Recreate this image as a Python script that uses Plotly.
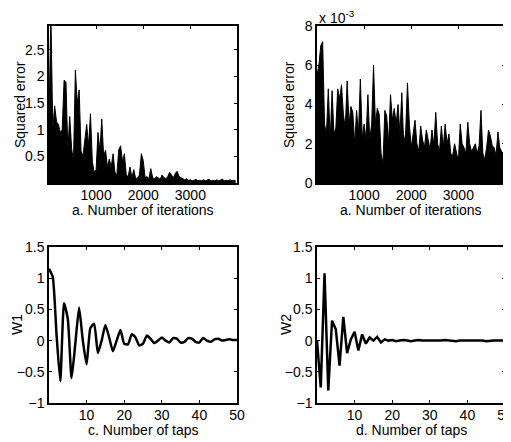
import plotly.graph_objects as go

# iterations sampled every 40 steps (0 .. 3960)
iterations = list(range(0, 4000, 40))

# squared error, plot a (envelope)
err_a = [1.2, 3.2, 1.0, 1.45, 1.15, 1.1, 0.95, 1.0, 1.93, 1.9,
         0.6, 1.25, 0.65, 0.4, 2.12, 1.5, 1.75, 0.6, 0.5, 0.8,
         1.1, 0.7, 1.3, 0.4, 0.2, 0.25, 0.95, 0.6, 1.2, 0.5,
         0.62, 0.3, 0.45, 0.3, 0.55, 0.2, 0.15, 0.62, 0.7, 0.4,
         0.55, 0.15, 0.12, 0.3, 0.1, 0.25, 0.08, 0.1, 0.15, 0.55,
         0.42, 0.1, 0.12, 0.08, 0.27, 0.1, 0.08, 0.12, 0.1, 0.07,
         0.15, 0.1, 0.08, 0.12, 0.2, 0.15, 0.1, 0.18, 0.22, 0.12,
         0.1, 0.08, 0.06, 0.08, 0.05, 0.06, 0.04, 0.05, 0.07, 0.04,
         0.05, 0.04, 0.06, 0.04, 0.05, 0.07, 0.04, 0.05, 0.04, 0.06,
         0.04, 0.05, 0.07, 0.04, 0.05, 0.04, 0.06, 0.04, 0.05, 0.04]

# squared error, plot b (units of 1e-3)
err_b = [5.5, 6.0, 7.0, 7.2, 3.0, 2.5, 4.8, 2.2, 4.7, 2.5,
         2.8, 4.8, 4.3, 5.0, 3.5, 2.8, 5.2, 3.0, 3.9, 3.6,
         2.0, 3.7, 2.5, 5.3, 2.3, 3.0, 2.2, 4.5, 2.2, 3.0,
         6.0, 3.0, 3.8, 3.5, 1.5, 1.0, 3.7, 3.4, 2.0, 4.5,
         3.2, 3.8, 3.0, 4.0, 2.5, 4.6, 2.0, 2.5, 5.1, 3.0,
         1.8, 2.5, 3.2, 2.0, 1.6, 2.9, 2.2, 1.8, 2.7, 2.2,
         1.7, 2.7, 1.9, 3.6, 2.0, 1.6, 2.9, 1.8, 3.0, 2.0,
         2.5, 1.5, 1.4, 2.0, 1.6, 1.1, 3.0, 2.0, 1.8, 1.5,
         3.1, 2.0, 1.6, 1.8, 2.0, 1.5, 1.9, 3.7, 1.5, 1.2,
         1.8, 2.7, 2.4, 1.9, 1.8, 1.4, 2.6, 1.8, 1.6, 1.5]

taps = list(range(0, 51))

w1 = [1.15, 1.02, 0.1, -0.65, 0.6, 0.35, -0.6, -0.05, 0.53, 0.0,
      -0.38, 0.2, 0.27, -0.2, 0.0, 0.25, 0.05, -0.17, 0.0, 0.17,
      -0.05, -0.06, 0.1, 0.05, -0.08, -0.05, 0.08, 0.03, -0.04, 0.0,
      0.05, 0.0, -0.03, 0.04, 0.03, -0.03, -0.02, 0.04, 0.03, -0.02,
      -0.03, 0.04, 0.0, -0.02, 0.02, 0.03, 0.0, 0.01, 0.02, 0.01, 0.01]

w2 = [0.0, -0.75, 1.08, -0.8, 0.32, 0.18, -0.4, 0.38, -0.2, 0.02,
      0.14, -0.16, 0.1, -0.05, 0.05, 0.0, 0.06, -0.03, 0.02, 0.0,
      0.01, -0.01, 0.0, 0.01, 0.0, -0.01, 0.0, 0.01, 0.0, 0.0,
      0.0, -0.01, 0.0, 0.0, 0.01, 0.0, 0.0, -0.01, 0.0, 0.0,
      0.0, 0.0, 0.01, 0.0, 0.0, -0.01, 0.0, 0.0, 0.0, 0.0, 0.0]

FONT = "Liberation Sans, Arial, sans-serif"

# page has an 8px body margin, so the figure is 8px smaller and everything shifted by 8
W, H, OFF = 503, 434, 8


def fx(px):
    return (px - OFF) / W


def fy(py):
    return 1 - (py - OFF) / H


fig = go.Figure()
fig.add_trace(go.Scatter(x=iterations, y=err_a, mode="lines", line=dict(color="black", width=1),
                         fill="tozeroy", fillcolor="black", xaxis="x", yaxis="y"))
fig.add_trace(go.Scatter(x=iterations, y=err_b, mode="lines", line=dict(color="black", width=1),
                         fill="tozeroy", fillcolor="black", xaxis="x2", yaxis="y2"))
fig.add_trace(go.Scatter(x=taps, y=w1, mode="lines", line=dict(color="black", width=2.5, shape="spline", smoothing=0.5),
                         xaxis="x3", yaxis="y3"))
fig.add_trace(go.Scatter(x=taps, y=w2, mode="lines", line=dict(color="black", width=2.5),
                         xaxis="x4", yaxis="y4"))

ax = dict(showline=True, linecolor="black", linewidth=1.5, mirror="allticks",
          ticks="inside", ticklen=3, tickcolor="black", showgrid=False, zeroline=False,
          automargin=False, ticklabeloverflow="allow",
          tickfont=dict(family=FONT, size=14, color="black"))
xax = dict(ax, ticklabelstandoff=-2)

left = [fx(49), fx(237)]
right = [fx(317), min(fx(505), 1)]
top = [fy(183), fy(26)]
bot = [fy(403), fy(247)]

fig.update_layout(
    width=W, height=H, margin=dict(l=0, r=0, t=0, b=0),
    paper_bgcolor="white", plot_bgcolor="white", showlegend=False,
    xaxis=dict(xax, domain=left, range=[0, 3990], tickvals=[1000, 2000, 3000], anchor="y"),
    yaxis=dict(ax, domain=top, range=[0, 2.95], tickvals=[0.5, 1, 1.5, 2, 2.5], anchor="x"),
    xaxis2=dict(xax, domain=right, range=[0, 3990], tickvals=[1000, 2000, 3000], anchor="y2"),
    yaxis2=dict(ax, domain=top, range=[0, 8], tickvals=[0, 2, 4, 6, 8], anchor="x2"),
    xaxis3=dict(xax, domain=left, range=[0, 50], tickvals=[10, 20, 30, 40, 50], anchor="y3"),
    yaxis3=dict(ax, domain=bot, range=[-1, 1.5], tickvals=[-1, -0.5, 0, 0.5, 1, 1.5], anchor="x3"),
    xaxis4=dict(xax, domain=right, range=[0, 50], tickvals=[10, 20, 30, 40, 50], anchor="y4"),
    yaxis4=dict(ax, domain=bot, range=[-1, 1.5], tickvals=[-1, -0.5, 0, 0.5, 1, 1.5], anchor="x4"),
)

tf = dict(family=FONT, size=14, color="black")
notes = [
    ("Squared error", 20, 105, -90),
    ("a. Number of iterations", 143, 210, 0),
    ("Squared error", 289, 105, -90),
    ("a. Number of iterations", 411, 210, 0),
    ("W1", 17, 325, -90),
    ("c. Number of taps", 143, 430, 0),
    ("W2", 286, 325, -90),
    ("d. Number of taps", 411, 430, 0),
]
for text, px, py, ang in notes:
    fig.add_annotation(text=text, x=fx(px), y=fy(py), xref="paper", yref="paper",
                       showarrow=False, textangle=ang, font=tf, xanchor="center", yanchor="middle")

fig.add_annotation(text="x 10<sup>-3</sup>", x=fx(317), y=fy(17), xref="paper", yref="paper",
                   showarrow=False, font=tf, xanchor="left", yanchor="middle")

fig.write_html("out.html")
